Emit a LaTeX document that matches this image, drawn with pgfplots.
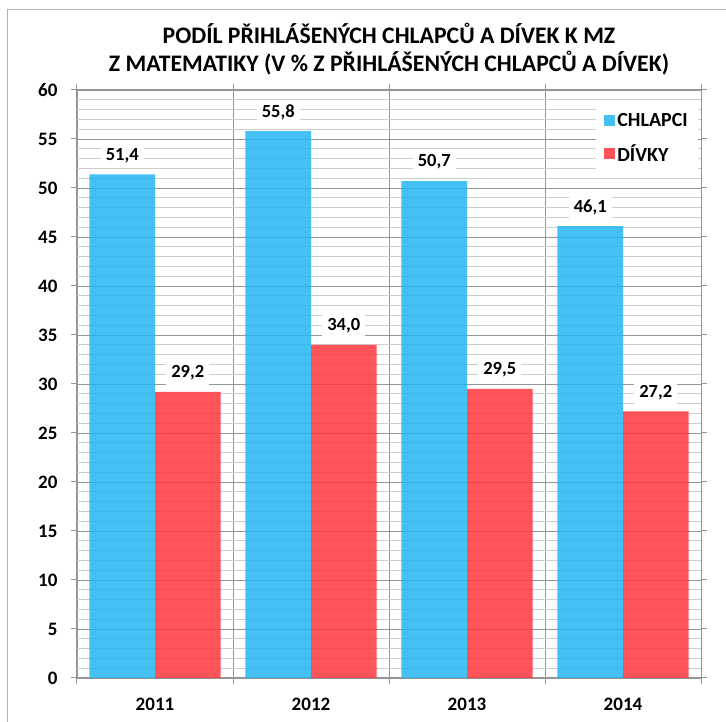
\documentclass[border=0pt]{standalone}
\usepackage{pgfplots}
\pgfplotsset{compat=1.18}
\usepackage{fontspec}
\setmainfont{Carlito}
\definecolor{cblue}{RGB}{35,181,240}
\definecolor{cred}{RGB}{255,54,60}
\definecolor{gmaj}{RGB}{150,150,150}
\definecolor{gmin}{RGB}{205,205,205}
\begin{document}
\begin{tikzpicture}
\path[use as bounding box] (-77pt,-44pt) rectangle (649pt,678pt);
\draw[gray!60, line width=1pt] (-69pt,-44pt) -- (-69pt,668pt) -- (649pt,668pt);
\begin{axis}[
  scale only axis, width=624pt, height=588pt,
  xmin=-0.5, xmax=3.5, ymin=0, ymax=60,
  xtick={-0.5,0.5,1.5,2.5,3.5}, xticklabels={},
  extra x ticks={0,1,2,3}, extra x tick labels={2011,2012,2013,2014},
  extra x tick style={grid=none, major tick length=0pt},
  ytick={0,5,...,60}, minor y tick num=4,
  xmajorgrids, ymajorgrids, yminorgrids,
  major grid style={gmaj, line width=0.8pt},
  minor grid style={gmin, line width=1pt},
  tick align=outside, major tick length=6pt, minor tick length=0pt,
  tick style={gmaj, line width=1pt},
  axis line style={gmaj, line width=1pt},
  /pgf/number format/assume math mode=true,
  ticklabel style={font=\fontsize{19}{20}\selectfont\bfseries, text=black},
  xticklabel style={yshift=-17pt},
  yticklabel style={xshift=-10pt},
  title={PODÍL PŘIHLÁŠENÝCH CHLAPCŮ A DÍVEK K MZ\\Z MATEMATIKY (V \% Z PŘIHLÁŠENÝCH CHLAPCŮ A DÍVEK)},
  title style={font=\fontsize{23.7}{28}\selectfont\bfseries, align=center, at={(0.5,1)}, anchor=center, yshift=35pt},
  bar width=0.42,
  nodes near coords={\pgfmathprintnumber[use comma,fixed,fixed zerofill,precision=1,assume math mode=true]{\pgfplotspointmeta}},
  every node near coord/.append style={font=\fontsize{18.5}{20}\selectfont\bfseries, text=black, fill=white, fill opacity=1, text opacity=1, inner xsep=5pt, inner ysep=5pt, anchor=center, yshift=19pt},
  legend style={at={(0.832,0.975)}, anchor=north west, draw=none, fill=white, font=\fontsize{20}{22}\selectfont\bfseries, row sep=13pt, inner xsep=8pt, inner ysep=6pt},
  legend cell align=left,
  legend image code/.code={\fill[#1, draw=none] (0pt,-5.5pt) rectangle (11pt,5.5pt);},
]
\addplot[ybar, bar shift=0pt, fill=cblue, draw=none, fill opacity=0.85] coordinates {(-0.21,51.4) (0.79,55.8) (1.79,50.7) (2.79,46.1)};
\addlegendentry{CHLAPCI}
\addplot[ybar, bar shift=0pt, fill=cred, draw=none, fill opacity=0.85] coordinates {(0.21,29.2) (1.21,34.0) (2.21,29.5) (3.21,27.2)};
\addlegendentry{DÍVKY}
\end{axis}
\end{tikzpicture}
\end{document}
